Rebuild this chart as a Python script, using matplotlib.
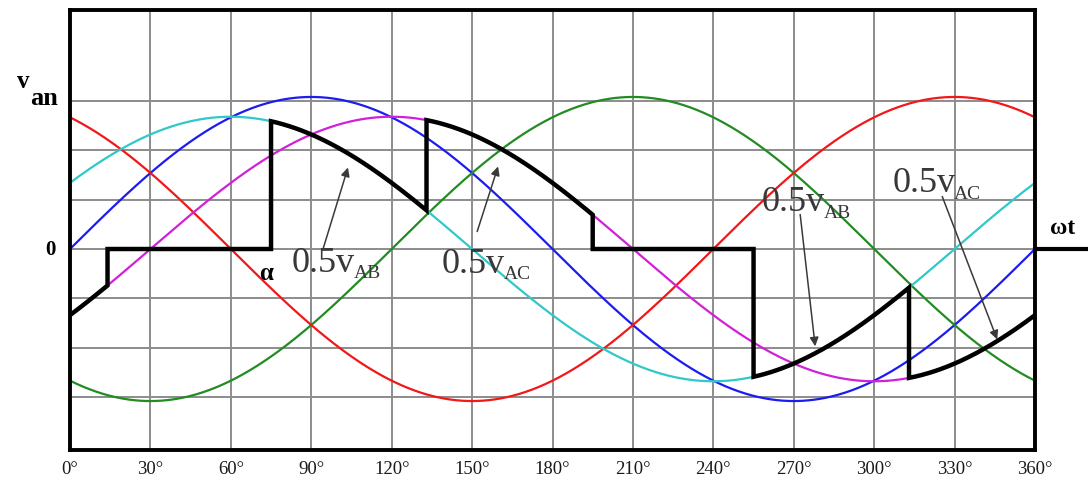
import numpy as np
import matplotlib
matplotlib.use('Agg')
import matplotlib.pyplot as plt

# sinusoids: angle of the peak (deg) and peak height
curve_names = ['v_an', 'v_bn', 'v_cn', '0.5v_AB', '0.5v_AC']
peak_deg = [90, 210, 330, 60, 120]
amplitude = [1.0, 1.0, 1.0, 0.87, 0.87]

# black output waveform: switching angles and which curve it follows
switch_deg = [0, 14, 75, 133, 195, 255, 313, 360]
segment_src = ['0.5v_AC', 'zero', '0.5v_AB', '0.5v_AC', 'zero', '0.5v_AB', '0.5v_AC']

tick_deg = [0, 30, 60, 90, 120, 150, 180, 210, 240, 270, 300, 330, 360]
tick_labels = ['0°', '30°', '60°', '90°', '120°', '150°', '180°', '210°',
               '240°', '270°', '300°', '330°', '360°']
hgrid = [-0.975, -0.65, -0.325, 0.0, 0.325, 0.65, 0.975]

colors = {'v_an': '#1c1cf0', 'v_bn': '#228b22', 'v_cn': '#f01818',
          '0.5v_AB': '#30c8c8', '0.5v_AC': '#d020d8'}

plt.rcParams['font.family'] = ['Liberation Serif', 'DejaVu Serif']


def wave(name, th):
    if name == 'zero':
        return np.zeros_like(th)
    i = curve_names.index(name)
    return amplitude[i] * np.cos(np.radians(th - peak_deg[i]))


W, H = 1088, 491
fig = plt.figure(figsize=(W / 100, H / 100), dpi=100)
ax = fig.add_axes([70 / W, 1 - 450 / H, 965 / W, 440 / H])
ax.set_xlim(0, 360)
ax.set_ylim(-1.322, 1.572)

# grid
for d in tick_deg:
    ax.axvline(d, color='#8c8c8c', lw=1.4, zorder=0)
for g in hgrid:
    ax.axhline(g, color='#8c8c8c', lw=1.4, zorder=0)

th = np.linspace(0, 360, 721)
for name in curve_names:
    ax.plot(th, wave(name, th), color=colors[name], lw=1.6, zorder=2)

# piecewise black waveform
xs, ys = [], []
for a, b, src in zip(switch_deg[:-1], switch_deg[1:], segment_src):
    t = np.linspace(a, b, 80)
    xs.append(t)
    ys.append(wave(src, t))
ax.plot(np.concatenate(xs), np.concatenate(ys), color='black', lw=3.2,
        solid_joinstyle='miter', zorder=3)

# omega-t axis stub outside the box
ax.plot([360, 380], [0, 0], color='black', lw=3.0, clip_on=False, zorder=3)

ax.set_xticks(tick_deg)
ax.set_xticklabels(tick_labels, fontsize=13.5, color='#1a1a1a')
ax.set_yticks([])
ax.tick_params(axis='x', length=0, pad=8)
for s in ax.spines.values():
    s.set_linewidth(2.8)
    s.set_color('black')


def sub_label(x, y, main, sub):
    t = ax.text(x, y, main, fontsize=26, color='#383838', va='baseline',
                ha='left', zorder=5)
    ax.annotate(sub, xy=(1, 0), xycoords=t, xytext=(-1, -2),
                textcoords='offset points', fontsize=14, color='#383838',
                va='bottom', ha='left', zorder=5)


sub_label(82.8, -0.148, '0.5v', 'AB')
sub_label(138.8, -0.155, '0.5v', 'AC')
sub_label(258.2, 0.247, '0.5v', 'AB')
sub_label(306.7, 0.372, '0.5v', 'AC')

arrows = [((94.4, 0.0), (103.7, 0.536)),
          ((151.9, 0.115), (159.7, 0.543)),
          ((272.4, 0.227), (278.0, -0.64)),
          ((325.4, 0.345), (345.9, -0.595))]
for tail, tip in arrows:
    ax.annotate('', xy=tip, xytext=tail,
                arrowprops=dict(arrowstyle='-|>', color='#3a3a3a', lw=1.1,
                                mutation_scale=13, shrinkA=0, shrinkB=0),
                zorder=4)

ax.text(73.3, -0.16, 'α', fontsize=18, fontweight='bold', ha='center',
        va='center', zorder=5)

fig.text(17 / W, 1 - 88 / H, 'v', fontsize=18, fontweight='bold', va='baseline')
fig.text(30 / W, 1 - 105 / H, 'an', fontsize=19, fontweight='bold', va='baseline')
fig.text(50 / W, 1 - 250 / H, '0', fontsize=15, fontweight='bold',
         ha='center', va='center')
fig.text(1063 / W, 1 - 228 / H, 'ωt', fontsize=17, fontweight='bold',
         ha='center', va='center')

fig.savefig('out.png', dpi=100)
plt.close(fig)
